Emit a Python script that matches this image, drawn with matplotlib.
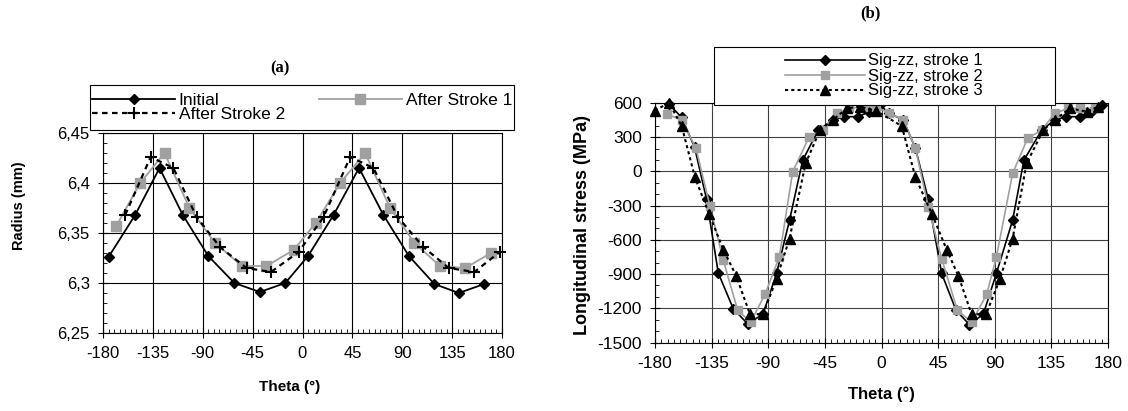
import matplotlib
matplotlib.use("Agg")
import matplotlib.pyplot as plt
from matplotlib.patches import Rectangle
from matplotlib.ticker import MultipleLocator, FuncFormatter

# (a) radius vs theta
th_init = [-175, -151, -129, -108, -85, -61.5, -38.5, -15.5, 5, 28, 51, 73, 96, 119, 141, 164]
r_init = [6.326, 6.368, 6.415, 6.368, 6.327, 6.300, 6.291, 6.300, 6.327, 6.368, 6.415, 6.368, 6.327, 6.299, 6.290, 6.299]

th_s1 = [-168, -146.5, -124.5, -102, -79, -54.5, -32.5, -8, 12, 34, 56.5, 79, 101, 124, 147, 170]
r_s1 = [6.357, 6.400, 6.430, 6.375, 6.340, 6.317, 6.317, 6.333, 6.360, 6.400, 6.430, 6.375, 6.340, 6.317, 6.315, 6.330]

th_s2 = [-160, -137, -116.5, -95.5, -74.5, -50.5, -28.5, -3.5, 19, 43, 64, 86, 109, 132, 155, 178]
r_s2 = [6.368, 6.426, 6.415, 6.366, 6.336, 6.315, 6.311, 6.331, 6.366, 6.426, 6.415, 6.366, 6.336, 6.315, 6.311, 6.331]

# (b) longitudinal stress vs theta
th_z1 = [-169, -158.8, -148.5, -139, -129.7, -117.8, -106.4, -94.2, -83.4, -73.1, -62.6, -50.2, -38.6, -29.6, -18.4, -9.7, -1.2,
         6.2, 17.4, 27, 37.2, 47.8, 59.2, 69.8, 80.9, 91.3, 104.2, 113.2, 127.3, 137.7, 147, 157.8, 166.3, 175]
s_z1 = [590, 474, 210, -246, -891, -1204, -1336, -1252, -894, -428, 99, 363, 451, 480, 480, 524, 582,
        509, 451, 202, -246, -894, -1217, -1343, -1252, -894, -428, 99, 363, 451, 480, 480, 524, 582]

th_z2 = [-170.7, -158.8, -147.4, -136.3, -125.7, -114.3, -104, -92.6, -81.2, -70.6, -57.4, -46.8, -35.6, -25.6, -14.4, -4.4,
         6.2, 17.4, 27, 37.2, 47.8, 60.3, 71.6, 83.6, 91.3, 104.2, 116.1, 127.3, 137.7, 148.3, 157.8, 169.5]
s_z2 = [503, 451, 202, -305, -780, -1217, -1322, -1078, -750, -3, 304, 363, 509, 553, 568, 568,
        509, 451, 202, -311, -765, -1217, -1322, -1078, -750, -18, 290, 363, 509, 553, 553, 553]

th_z3 = [-180, -168.9, -158.8, -148.2, -137.1, -125.7, -115.6, -104.5, -94.2, -83.4, -73.1, -60.3, -48.9, -38.6, -27.7, -17.1, -4.4,
         16.1, 27, 39.9, 51.8, 61, 71.6, 83.1, 94.2, 104.2, 115.3, 128.6, 137.7, 149.8, 163.2, 172.4]
s_z3 = [533, 603, 398, -53, -369, -686, -913, -1252, -1252, -941, -589, 70, 363, 451, 553, 568, 533,
        398, -53, -369, -686, -913, -1252, -1252, -941, -589, 70, 363, 451, 553, 524, 568]

theta_ticks = [-180, -135, -90, -45, 0, 45, 90, 135, 180]

plt.rcParams['font.family'] = ['Liberation Sans', 'DejaVu Sans']
plt.rcParams['axes.unicode_minus'] = False

fig = plt.figure(figsize=(11.28, 4.11), dpi=100)
W, H = 1128, 411

def place(l, t, r, b):
    return [l / W, 1 - b / H, (r - l) / W, (b - t) / H]

gray = '#a0a0a0'

# ---- (a)
ax = fig.add_axes(place(103, 133, 502, 333))
ax.plot(th_init, r_init, '-', color='black', lw=1.3, marker='D', ms=5.5, label='Initial', clip_on=False)
ax.plot(th_s1, r_s1, '-', color=gray, lw=1.3, marker='s', ms=6.5, label='After Stroke 1', clip_on=False)
ax.plot(th_s2, r_s2, color='black', lw=1.6, ls=(0, (2.5, 2)), marker='+', ms=9, mew=1.5,
        label='After Stroke 2', clip_on=False)
ax.set_xlim(-180, 180)
ax.set_ylim(6.25, 6.45)
ax.set_xticks(theta_ticks)
ax.set_yticks([6.25, 6.3, 6.35, 6.4, 6.45])
ax.xaxis.set_minor_locator(MultipleLocator(5))
ax.yaxis.set_minor_locator(MultipleLocator(0.01))
ax.yaxis.set_major_formatter(FuncFormatter(lambda v, p: ('%g' % round(v, 2)).replace('.', ',')))
ax.grid(True, which='major', color='black', lw=0.8)
ax.tick_params(which='major', direction='inout', length=7, labelsize=12, pad=6)
ax.tick_params(which='minor', direction='in', length=3)
ax.set_xlabel('Theta (°)', fontsize=11, fontweight='bold')
ax.set_ylabel('Radius (mm)', fontsize=10.5, fontweight='bold')
ax.xaxis.set_label_coords((290 - 103) / 399, (333 - 380) / 200)
ax.yaxis.set_label_coords((26 - 103) / 399, (333 - 206) / 200)
for sp in ax.spines.values():
    sp.set_linewidth(0.8)

fig.patches.append(Rectangle((90 / W, 1 - 130 / H), 424 / W, 45 / H, transform=fig.transFigure,
                             facecolor='white', edgecolor='black', lw=0.8, zorder=5))
h, l = ax.get_legend_handles_labels()
leg = fig.legend([h[0], h[2], h[1]], [l[0], l[2], l[1]], ncol=2, mode='expand',
                 bbox_to_anchor=(92 / W, 1 - 128 / H, 420 / W, 41 / H), loc='center',
                 fontsize=12.5, handlelength=4.8, labelspacing=-0.1, borderaxespad=0,
                 handletextpad=0.2, frameon=False, borderpad=0, columnspacing=1)
leg.set_zorder(6)
fig.text(280 / W, 1 - 68 / H, '(a)', family='Liberation Serif', fontweight='bold', fontsize=12,
         ha='center', va='center')

# ---- (b)
bx = fig.add_axes(place(655, 103, 1108, 342.5))
bx.plot(th_z1, s_z1, '-', color='black', lw=1.2, marker='D', ms=5, label='Sig-zz, stroke 1', clip_on=False)
bx.plot(th_z2, s_z2, '-', color=gray, lw=1.2, marker='s', ms=5.5, label='Sig-zz, stroke 2', clip_on=False)
bx.plot(th_z3, s_z3, color='black', lw=1.5, ls=(0, (1.5, 1.5)), marker='^', ms=7,
        label='Sig-zz, stroke 3', clip_on=False)
bx.set_xlim(-180, 180)
bx.set_ylim(-1500, 600)
bx.set_xticks(theta_ticks)
bx.set_yticks(range(-1500, 601, 300))
bx.xaxis.set_minor_locator(MultipleLocator(5))
bx.yaxis.set_minor_locator(MultipleLocator(100))
bx.grid(True, which='major', color='#404040', lw=0.8)
bx.tick_params(which='major', direction='inout', length=7, labelsize=12.5, pad=6)
bx.tick_params(which='minor', direction='in', length=3)
bx.set_xlabel('Theta (°)', fontsize=12, fontweight='bold')
bx.set_ylabel('Longitudinal stress (MPa)', fontsize=13, fontweight='bold')
bx.xaxis.set_label_coords(0.5, (342.5 - 386) / 239.5)
bx.yaxis.set_label_coords((591 - 655) / 453, 0.49)
for sp in bx.spines.values():
    sp.set_linewidth(0.8)

fig.patches.append(Rectangle((714 / W, 1 - 105 / H), (1055 - 714) / W, 58 / H, transform=fig.transFigure,
                             facecolor='white', edgecolor='black', lw=0.8, zorder=5))
leg2 = fig.legend(loc='center', bbox_to_anchor=(884 / W, 1 - 76 / H), frameon=False,
                  handles=bx.get_legend_handles_labels()[0], fontsize=12, handlelength=4.8,
                  labelspacing=0, handletextpad=0.2, borderpad=0)
leg2.set_zorder(6)
fig.text(870 / W, 1 - 13 / H, '(b)', family='Liberation Serif', fontweight='bold', fontsize=12,
         ha='center', va='center')

fig.savefig('out.png', dpi=100)
